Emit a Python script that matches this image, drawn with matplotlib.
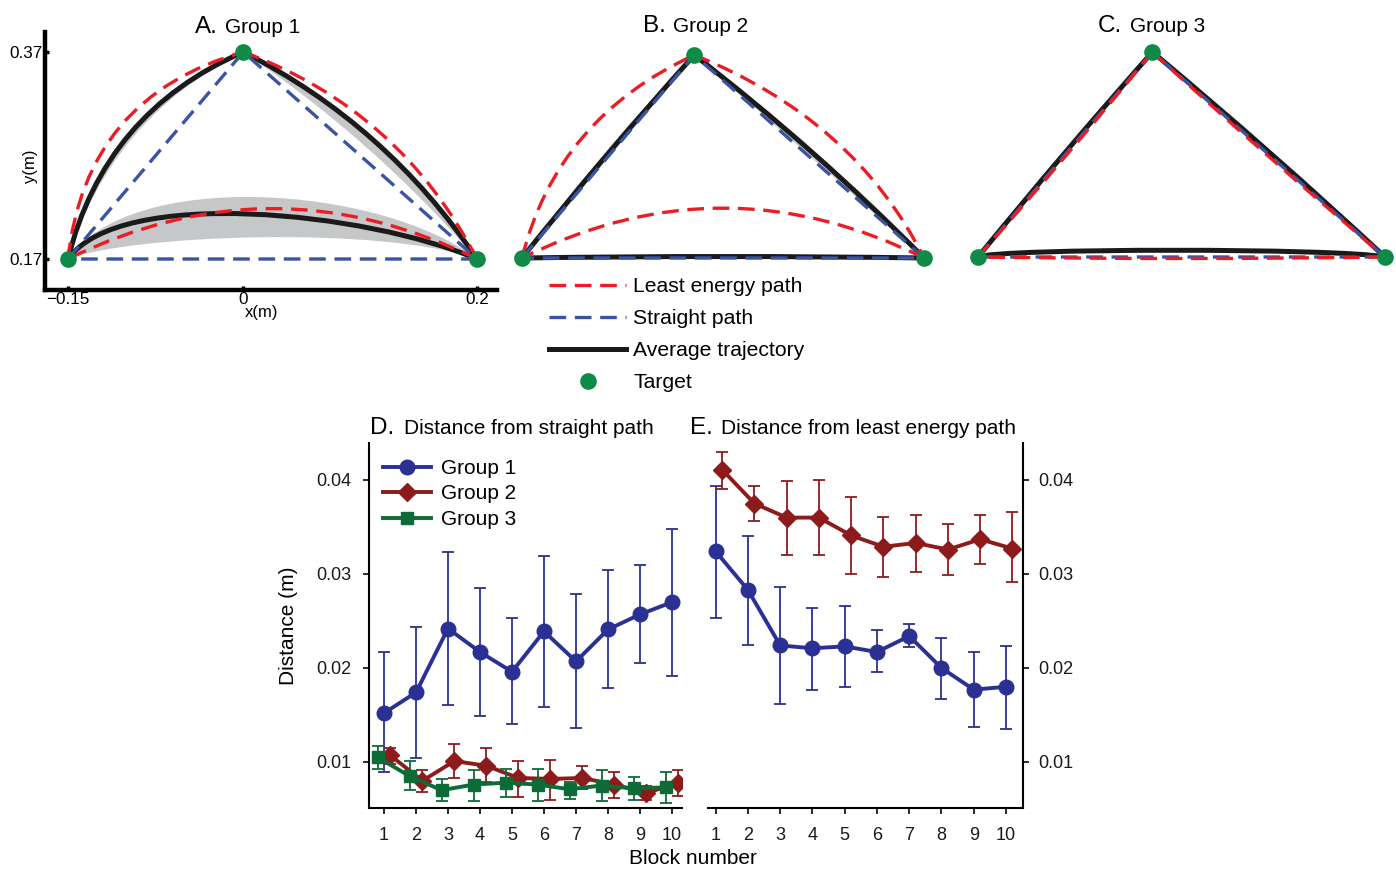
import numpy as np
import matplotlib
matplotlib.use('Agg')
import matplotlib.pyplot as plt
from matplotlib.path import Path
from matplotlib.patches import PathPatch
from matplotlib.lines import Line2D

plt.rcParams['font.family'] = ['Liberation Sans', 'DejaVu Sans']

W, H = 1396, 869

# targets (m)
targets_x = [-0.15, 0.0, 0.2]
targets_y = [0.17, 0.37, 0.17]
straight_x = [-0.15, 0.0, 0.2, -0.15]
straight_y = [0.17, 0.37, 0.17, 0.17]

# bezier control points of each reach: left->top, top->right, right->left
g1_least = [[(-0.15, 0.17), (-0.135, 0.327), (0.0, 0.37)],
            [(0.0, 0.37), (0.134, 0.3145), (0.2, 0.17)],
            [(0.2, 0.17), (0.025, 0.2676), (-0.15, 0.17)]]
g1_mean = [[(-0.15, 0.17), (-0.119, 0.312), (0.0, 0.37)],
           [(0.0, 0.37), (0.1225, 0.300), (0.2, 0.17)],
           [(0.2, 0.17), (0.1059, 0.2154), (-0.1055, 0.2405), (-0.15, 0.17)]]
g1_band_out = [[(-0.15, 0.17), (-0.121, 0.3137), (0.0, 0.37)],
               [(0.0, 0.37), (0.1247, 0.3029), (0.2, 0.17)],
               [(0.2, 0.17), (0.117, 0.2415), (-0.0969, 0.2579), (-0.15, 0.17)]]
g1_band_in = [[(-0.15, 0.17), (-0.113, 0.3062), (0.0, 0.37)],
              [(0.0, 0.37), (0.1112, 0.2855), (0.2, 0.17)],
              [(0.2, 0.17), (0.117, 0.2028), (-0.0969, 0.1932), (-0.15, 0.17)]]

g2_least = [[(-0.15, 0.17), (-0.1195, 0.3079), (0.0, 0.37)],
            [(0.0, 0.37), (0.1399, 0.3064), (0.2, 0.17)],
            [(0.2, 0.17), (0.025, 0.2685), (-0.15, 0.17)]]
g2_mean = [[(-0.15, 0.17), (-0.0777, 0.2725), (0.0, 0.37)],
           [(0.0, 0.37), (0.1056, 0.2779), (0.2, 0.17)],
           [(0.2, 0.17), (0.025, 0.173), (-0.15, 0.17)]]
g2_band_out = [[(-0.15, 0.17), (-0.0816, 0.2764), (0.0, 0.37)],
               [(0.0, 0.37), (0.108, 0.2804), (0.2, 0.17)]]
g2_band_in = [[(-0.15, 0.17), (-0.0737, 0.2687), (0.0, 0.37)],
              [(0.0, 0.37), (0.1011, 0.2715), (0.2, 0.17)]]

g3_least = [[(-0.15, 0.17), (-0.0733, 0.2681), (0.0, 0.37)],
            [(0.0, 0.37), (0.098, 0.268), (0.2, 0.17)],
            [(0.2, 0.17), (0.025, 0.167), (-0.15, 0.17)]]
g3_mean = [[(-0.15, 0.17), (-0.0767, 0.2719), (0.0, 0.37)],
           [(0.0, 0.37), (0.1025, 0.273), (0.2, 0.17)],
           [(0.2, 0.17), (0.1613, 0.1788), (-0.1311, 0.1788), (-0.15, 0.17)]]
g3_band_out = [[(0.0, 0.37), (0.105, 0.2765), (0.2, 0.17)]]
g3_band_in = [[(0.0, 0.37), (0.1, 0.27), (0.2, 0.17)]]

# bottom panels
blocks = np.arange(1, 11)
d_g1 = np.array([0.0152, 0.0174, 0.0242, 0.0217, 0.0196, 0.0239, 0.0207, 0.0241, 0.0257, 0.0270])
d_g1_hi = np.array([0.0217, 0.0244, 0.0323, 0.0285, 0.0253, 0.0319, 0.0279, 0.0304, 0.0310, 0.0348])
d_g1_lo = np.array([0.0089, 0.0104, 0.0161, 0.0149, 0.0140, 0.0158, 0.0136, 0.0179, 0.0205, 0.0192])
d_g2 = np.array([0.0107, 0.0080, 0.0101, 0.0096, 0.0083, 0.0082, 0.0083, 0.0076, 0.0067, 0.0078])
d_g2_hi = np.array([0.0115, 0.0092, 0.0119, 0.0115, 0.0101, 0.0102, 0.0096, 0.0089, 0.0074, 0.0092])
d_g2_lo = np.array([0.0098, 0.0068, 0.0083, 0.0079, 0.0063, 0.0060, 0.0071, 0.0062, 0.0060, 0.0064])
d_g3 = np.array([0.0105, 0.0085, 0.0070, 0.0076, 0.0078, 0.0076, 0.0071, 0.0075, 0.0072, 0.0073])
d_g3_hi = np.array([0.0117, 0.0101, 0.0082, 0.0092, 0.0093, 0.0093, 0.0079, 0.0092, 0.0084, 0.0089])
d_g3_lo = np.array([0.0093, 0.0070, 0.0058, 0.0059, 0.0063, 0.0058, 0.0061, 0.0058, 0.0060, 0.0056])

e_g1 = np.array([0.0324, 0.0283, 0.0224, 0.0221, 0.0223, 0.0217, 0.0234, 0.0200, 0.0177, 0.0180])
e_g1_hi = np.array([0.0394, 0.0340, 0.0286, 0.0264, 0.0266, 0.0240, 0.0247, 0.0232, 0.0217, 0.0223])
e_g1_lo = np.array([0.0253, 0.0225, 0.0162, 0.0177, 0.0180, 0.0196, 0.0222, 0.0167, 0.0137, 0.0135])
e_g2 = np.array([0.0411, 0.0375, 0.0360, 0.0360, 0.0341, 0.0329, 0.0333, 0.0326, 0.0337, 0.0327])
e_g2_hi = np.array([0.0430, 0.0394, 0.0399, 0.0400, 0.0382, 0.0361, 0.0363, 0.0353, 0.0363, 0.0366])
e_g2_lo = np.array([0.0390, 0.0356, 0.0320, 0.0320, 0.0300, 0.0297, 0.0302, 0.0299, 0.0311, 0.0292])

RED = '#ec1c24'
BLUE = '#3a53a4'
TGREEN = '#0f8a47'
GRAY = '#c6c7c9'
C1 = '#2b3192'
C2 = '#8e1b1b'
C3 = '#0c6b36'
DASH = (0, (5, 2.6))

fig = plt.figure(figsize=(W / 100, H / 100), dpi=100)


def fx(px):
    return px / W


def fy(py):
    return 1 - py / H


def add_box(l, t, r, b):
    return fig.add_axes([fx(l), fy(b), (r - l) / W, (b - t) / H])


def arena(box, xpx, ypx):
    # xpx: pixel of x=-0.15 and x=0.2, ypx: pixel of y=0.17 and y=0.37
    l, t, r, b = box
    ax = add_box(l, t, r, b)
    sx = 0.35 / (xpx[1] - xpx[0])
    sy = 0.2 / (ypx[0] - ypx[1])
    ax.set_xlim(-0.15 + (l - xpx[0]) * sx, -0.15 + (r - xpx[0]) * sx)
    ax.set_ylim(0.17 - (b - ypx[0]) * sy, 0.17 + (ypx[0] - t) * sy)
    return ax


def codes_for(pts):
    return {2: Path.LINETO, 3: Path.CURVE3, 4: Path.CURVE4}[len(pts)]


def seg_path(pts):
    return Path(pts, [Path.MOVETO] + [codes_for(pts)] * (len(pts) - 1))


def band_path(outer, inner):
    back = inner[::-1]
    verts = list(outer) + list(back[1:]) + [outer[0]]
    codes = ([Path.MOVETO] + [codes_for(outer)] * (len(outer) - 1)
             + [codes_for(back)] * (len(back) - 1) + [Path.CLOSEPOLY])
    return Path(verts, codes)


def draw_group(ax, least, mean, band_out, band_in):
    for o, i in zip(band_out, band_in):
        ax.add_patch(PathPatch(band_path(o, i), fc=GRAY, ec='none', zorder=1))
    for seg in mean:
        ax.add_patch(PathPatch(seg_path(seg), fill=False, ec='#1a1a1a', lw=3.6,
                               capstyle='round', zorder=2))
    ax.plot(straight_x, straight_y, color=BLUE, lw=2.4, ls=DASH, zorder=3)
    for seg in least:
        ax.add_patch(PathPatch(seg_path(seg), fill=False, ec=RED, lw=2.4,
                               ls=DASH, zorder=4))
    ax.plot(targets_x, targets_y, 'o', color=TGREEN, ms=12, mec='none',
            zorder=5, clip_on=False)


def title(px_letter, px_text, py, letter, text):
    fig.text(fx(px_letter), fy(py), letter, fontsize=17.5, va='baseline')
    fig.text(fx(px_text), fy(py), text, fontsize=15, va='baseline')


# ---- A ----
axa = arena((45, 32, 497, 290), (68, 477), (259, 52))
draw_group(axa, g1_least, g1_mean, g1_band_out, g1_band_in)
for s in ['top', 'right']:
    axa.spines[s].set_visible(False)
for s in ['left', 'bottom']:
    axa.spines[s].set_linewidth(3.2)
axa.set_xticks([-0.15, 0.0, 0.2])
axa.set_xticklabels(['\u22120.15', '0', '0.2'])
axa.set_yticks([0.17, 0.37])
axa.set_yticklabels(['0.17', '0.37'])
axa.tick_params(direction='in', length=3, width=2.5, labelsize=12.3, pad=1.5)
fig.text(fx(262), fy(313), 'x(m)', fontsize=12, ha='center', va='center')
fig.text(fx(31), fy(166), 'y(m)', fontsize=12, ha='center', va='center', rotation=90)
title(195, 225, 33, 'A.', 'Group 1')

# ---- B ----
axb = arena((499, 32, 951, 290), (522, 924), (258, 55))
draw_group(axb, g2_least, g2_mean, g2_band_out, g2_band_in)
axb.axis('off')
title(643, 673, 32, 'B.', 'Group 2')

# ---- C ----
axc = arena((955, 32, 1396, 290), (978, 1385), (257, 52))
draw_group(axc, g3_least, g3_mean, g3_band_out, g3_band_in)
axc.axis('off')
title(1098, 1130, 32, 'C.', 'Group 3')

# top legend
leg_handles = [Line2D([], [], color=RED, lw=2.4, ls=DASH),
               Line2D([], [], color=BLUE, lw=2.4, ls=DASH),
               Line2D([], [], color='#1a1a1a', lw=3.6),
               Line2D([], [], color=TGREEN, marker='o', ls='none', ms=12, mec='none')]
fig.legend(leg_handles, ['Least energy path', 'Straight path', 'Average trajectory', 'Target'],
           loc='upper left', bbox_to_anchor=(fx(549), fy(277)), frameon=False,
           fontsize=15.2, handlelength=3.65, handletextpad=0.33, labelspacing=0.62,
           borderpad=0, borderaxespad=0)


# ---- D / E ----
def block_axes(box, x1px, x10px):
    l, t, r, b = box
    ax = add_box(l, t, r, b)
    sx = 9.0 / (x10px - x1px)
    ax.set_xlim(1 + (l - x1px) * sx, 1 + (r - x1px) * sx)
    sy = 0.03 / (762 - 480)
    ax.set_ylim(0.01 - (b - 762) * sy, 0.04 + (480 - t) * sy)
    ax.set_xticks(blocks)
    ax.set_yticks([0.01, 0.02, 0.03, 0.04])
    ax.spines['top'].set_visible(False)
    for s in ax.spines.values():
        s.set_linewidth(1.5)
    ax.tick_params(direction='out', length=4, width=1.3, labelsize=13, colors='#1a1a1a')
    ax.tick_params(axis='x', pad=10)
    return ax


def series(ax, x, m, lo, hi, color, marker, ms, label, z):
    eb = ax.errorbar(x, m, yerr=[m - lo, hi - m], color=color, lw=2.8, marker=marker,
                     ms=ms, mec=color, capsize=4.5, elinewidth=1.3, capthick=1.3,
                     label=label, zorder=z)
    return eb.lines[0]


axd = block_axes((369, 443, 682, 808), 384, 672)
axd.spines['right'].set_visible(False)
axd.tick_params(axis='y', pad=9)
h1 = series(axd, blocks, d_g1, d_g1_lo, d_g1_hi, C1, 'o', 10.5, 'Group 1', 3)
h2 = series(axd, blocks + 0.2, d_g2, d_g2_lo, d_g2_hi, C2, 'D', 9, 'Group 2', 4)
h3 = series(axd, blocks - 0.2, d_g3, d_g3_lo, d_g3_hi, C3, 's', 9, 'Group 3', 5)
axd.legend([h1, h2, h3], ['Group 1', 'Group 2', 'Group 3'], loc='upper left',
           bbox_to_anchor=(fx(383), fy(459)), bbox_transform=fig.transFigure,
           frameon=False, fontsize=15, handlelength=2.3, handletextpad=0.5,
           labelspacing=0.31, borderpad=0, borderaxespad=0)
axd.set_ylabel('Distance (m)', fontsize=15)
axd.yaxis.set_label_coords((298 - 369) / (682 - 369), 0.5)

axe = block_axes((708, 443, 1023, 808), 715.7, 1006)
axe.spines['left'].set_visible(False)
axe.yaxis.tick_right()
axe.tick_params(axis='y', pad=7)
series(axe, blocks, e_g1, e_g1_lo, e_g1_hi, C1, 'o', 10.5, 'Group 1', 3)
series(axe, blocks + 0.2, e_g2, e_g2_lo, e_g2_hi, C2, 'D', 9, 'Group 2', 4)

title(370, 404, 434, 'D.', 'Distance from straight path')
title(690, 721, 434, 'E.', 'Distance from least energy path')
fig.text(fx(693), fy(859), 'Block number', fontsize=15, ha='center', va='center')

fig.savefig('out.png', dpi=100)
